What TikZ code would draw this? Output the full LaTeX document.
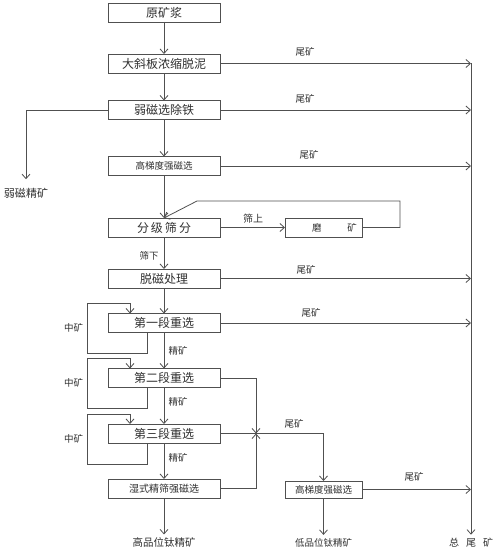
\documentclass[tikz,border=0pt]{standalone}
\usepackage{fontspec}
\newfontfamily\cjk{Noto Sans CJK SC}
\usetikzlibrary{arrows.meta}
\definecolor{linegray}{HTML}{505050}
\definecolor{txt}{HTML}{303030}
\begin{document}
\begin{tikzpicture}[x=1pt,y=-1pt,
  box/.style={draw=linegray, line width=0.9pt, minimum width=112pt, minimum height=19pt, inner sep=0pt, outer sep=0pt, font=\cjk\fontsize{12}{12}\selectfont, text=txt},
  smallbox/.style={font=\cjk\fontsize{9.5}{10}\selectfont},
  arr/.style={draw=linegray, line width=0.8pt, -{Straight Barb[length=4.5pt,width=8pt]}},
  ln/.style={draw=linegray, line width=0.8pt},
  lab/.style={font=\cjk\fontsize{9.5}{10}\selectfont, inner sep=0pt, text=txt}]
\useasboundingbox[fill=white] (0,0) rectangle (500,551);

% main boxes
\node[box] (b1) at (164,12.5) {原矿浆};
\node[box] (b2) at (164,63.5) {大斜板浓缩脱泥};
\node[box] (b3) at (164,110) {弱磁选除铁};
\node[box, smallbox] (b4) at (164,166) {高梯度强磁选};
\node[box] (b5) at (164,227.5) {分\hspace{2pt}级\hspace{2pt}筛\hspace{2pt}分};
\node[box] (b6) at (164,278.5) {脱磁处理};
\node[box] (b7) at (164,323) {第一段重选};
\node[box] (b8) at (164,378) {第二段重选};
\node[box] (b9) at (164,433.5) {第三段重选};
\node[box, font=\cjk\fontsize{10}{10}\selectfont] (b10) at (164,488.5) {湿式精筛强磁选};
\node[box, minimum width=77pt, smallbox] (m) at (323.5,227.5) {\hspace*{22pt}磨\hspace{26pt}矿};
\node[box, minimum width=77pt, minimum height=17pt, smallbox] (b11) at (323.5,489.5) {高梯度强磁选};

% end labels
\node[lab, font=\cjk\fontsize{11}{11}\selectfont, inner ysep=8.5pt] (wm) at (26,193) {弱磁精矿};
\node[lab, font=\cjk\fontsize{10.5}{11}\selectfont, inner ysep=3pt] (hi) at (164,542.5) {高品位钛精矿};
\node[lab, inner ysep=3pt] (lo) at (323.5,542.5) {低品位钛精矿};
\node[lab, font=\cjk\fontsize{10}{10}\selectfont, inner ysep=3pt] (tot) at (471,542.5) {总\hspace{7pt}尾\hspace{7pt}矿};

\coordinate (R) at (471,0);
\coordinate (jx) at (256,0);

% main line
\draw[arr] (b1) -- (b2);
\draw[arr] (b2) -- (b3);
\draw[arr] (b3) -- (b4);
\draw[arr] (b4) -- (b5);
\draw[arr] (b5) -- (b6);
\draw[arr] (b6) -- (b7);
\draw[arr] (b7) -- (b8);
\draw[arr] (b8) -- (b9);
\draw[arr] (b9) -- (b10);
\draw[arr] (b10) -- (hi);

% tails to the right
\foreach \b in {b2,b3,b4,b6,b7,b11}
  \draw[arr] (\b.east) -- (\b.east -| R);
\draw[arr] (b2.east -| R) -- (tot);

% weak magnetic concentrate
\draw[arr] (b3.west) -| (wm);

% screening and grinding loop
\draw[arr] (b5.east) -- (m.west);
\draw[arr] (m.east) -- ++(38,0) -- ++(0,-26.5) -- ++(-203,0) -- (b5.north);

% middlings loops
\foreach \b in {b7,b8,b9}
  \draw[arr] ([xshift=-17pt]\b.south) -- ++(0,21) -- ++(-60,0)
     |- ([xshift=-34pt,yshift=10pt]\b.north) -- ([xshift=-34pt]\b.north);

% tails of stages 2, 3 and wet magnetic separation
\draw[arr] (b8.east) -- (b8.east -| jx) -- (b9.east -| jx);
\draw[arr] (b10.east) -- (b10.east -| jx) -- (b9.east -| jx);
\draw[arr] (b9.east) -| (b11.north);
\draw[arr] (b11) -- (lo);

% labels
\foreach \y in {52,99}
  \node[lab] at (305,\y) {尾矿};
\node[lab] at (309,155) {尾矿};
\node[lab] at (306,270) {尾矿};
\node[lab] at (311,313) {尾矿};
\node[lab] at (294,424) {尾矿};
\node[lab] at (414,477) {尾矿};
\node[lab, font=\cjk\fontsize{10}{10}\selectfont] at (253,219) {筛上};
\node[lab] at (149,256) {筛下};
\foreach \y in {351,402,458}
  \node[lab] at (178,\y) {精矿};
\foreach \y in {328,383,439}
  \node[lab] at (73.5,\y) {中矿};
\end{tikzpicture}
\end{document}
